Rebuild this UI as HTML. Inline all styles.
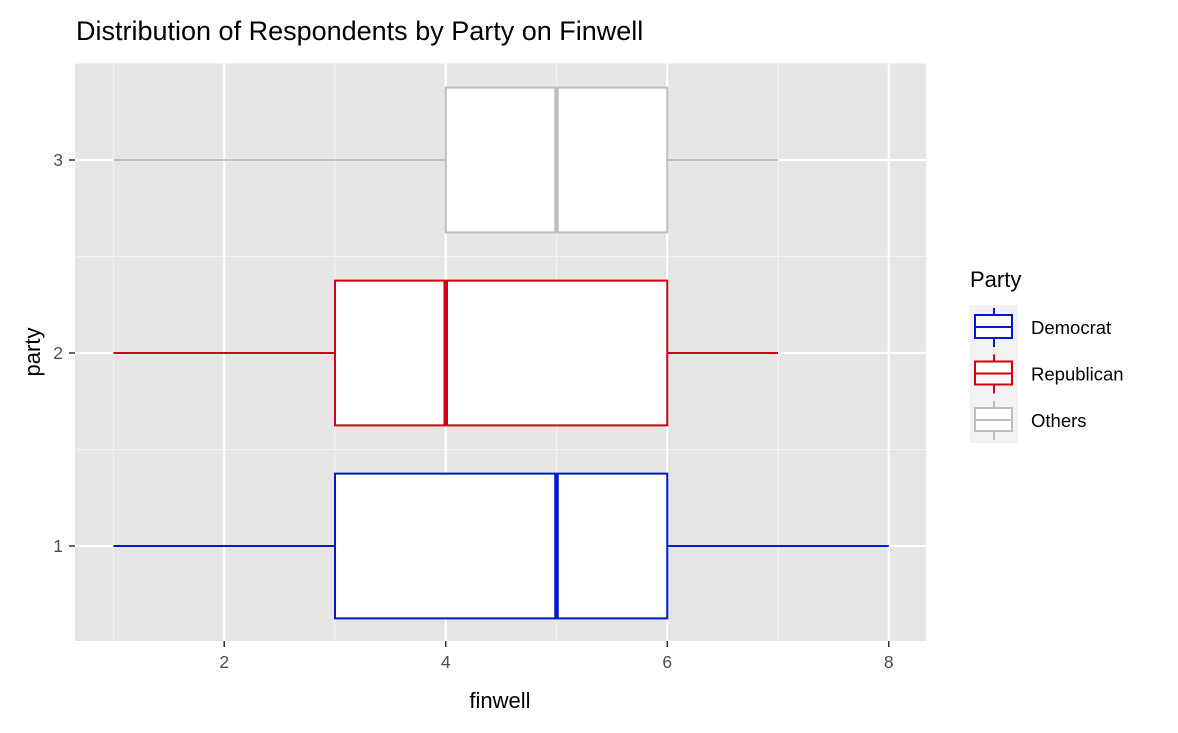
<!DOCTYPE html>
<html><head><meta charset="utf-8"><style>
body{margin:0;background:#fff;font-family:"Liberation Sans",Arial,sans-serif}
</style></head><body>
<svg id="c" width="1178" height="728" xmlns="http://www.w3.org/2000/svg" font-family="Liberation Sans, Arial, sans-serif">
<text x="76" y="40" font-size="27" fill="#000">Distribution of Respondents by Party on Finwell</text>
<rect x="75" y="63" width="851" height="578" fill="#e5e5e5"/>
<g id="grid"></g><g id="boxes"></g><g id="axes"></g>
<text x="500" y="708" font-size="22" text-anchor="middle">finwell</text>
<text transform="translate(40,352) rotate(-90)" font-size="22" text-anchor="middle">party</text>
<g>
<text x="970" y="287" font-size="22">Party</text>
<rect x="970" y="305" width="48" height="138" fill="#f2f2f2"/>
<g id="leg"></g></g>
</svg>
<script>
const parties=["Democrat","Republican","Others"];
const colors=["#0019cc","#d10012","#bebebe"];
const yPos=[1,2,3];
const mins=[1,1,1];
const q1s=[3,3,4];
const medians=[5,4,5];
const q3s=[6,6,6];
const maxs=[8,7,7];
const xTicks=[2,4,6,8];
const yTicks=[1,2,3];
const NS="http://www.w3.org/2000/svg";
const X=v=>113.5+(v-1)*110.75;
const Y=v=>546-(v-1)*193;
function mk(p,t,a){const e=document.createElementNS(NS,t);for(const k in a)e.setAttribute(k,a[k]);p.appendChild(e);return e;}
const grid=document.getElementById('grid'),boxes=document.getElementById('boxes'),axes=document.getElementById('axes'),leg=document.getElementById('leg');
for(let v=1;v<=9;v+=2){const x=X(v);if(x>75&&x<926){const l=mk(grid,'line',{x1:x,x2:x,y1:63,y2:641,stroke:'#f2f2f2','stroke-width':1.2});

}}
for(let v=0.5;v<=3.5;v+=1){const y=Y(v);if(y>63&&y<641){const l=mk(grid,'line',{x1:75,x2:926,y1:y,y2:y,stroke:'#f2f2f2','stroke-width':1.2});

}}
xTicks.forEach(v=>{const x=X(v);const l=mk(grid,'line',{x1:x,x2:x,y1:63,y2:641,stroke:'#fff','stroke-width':2.2});


mk(axes,'line',{x1:x,x2:x,y1:641,y2:647,stroke:'#333','stroke-width':1.5});
const t=mk(axes,'text',{x:x,y:668,'font-size':17.5,fill:'#4d4d4d','text-anchor':'middle'});t.textContent=v;

});
yTicks.forEach(v=>{const y=Y(v);const l=mk(grid,'line',{x1:75,x2:926,y1:y,y2:y,stroke:'#fff','stroke-width':2.2});


mk(axes,'line',{x1:69,x2:75,y1:y,y2:y,stroke:'#333','stroke-width':1.5});
const t=mk(axes,'text',{x:63,y:y+6,'font-size':17.5,fill:'#4d4d4d','text-anchor':'end'});t.textContent=v;

});
parties.forEach((p,i)=>{const y=Y(yPos[i]),h=0.375*193,c=colors[i];
const g=mk(boxes,'g',{});


mk(g,'line',{x1:X(mins[i]),x2:X(q1s[i]),y1:y,y2:y,stroke:c,'stroke-width':2});
mk(g,'line',{x1:X(q3s[i]),x2:X(maxs[i]),y1:y,y2:y,stroke:c,'stroke-width':2});
mk(g,'rect',{x:X(q1s[i]),y:y-h,width:X(q3s[i])-X(q1s[i]),height:2*h,fill:'#fff',stroke:c,'stroke-width':2});
mk(g,'line',{x1:X(medians[i]),x2:X(medians[i]),y1:y-h,y2:y+h,stroke:c,'stroke-width':4.5});
const ly=327+i*46.5;
const lg=mk(leg,'g',{});


mk(lg,'line',{x1:994,x2:994,y1:ly-19,y2:ly+20,stroke:c,'stroke-width':2});
mk(lg,'rect',{x:975,y:ly-12,width:37,height:23,fill:'#fff',stroke:c,'stroke-width':2});
mk(lg,'line',{x1:975,x2:1012,y1:ly,y2:ly,stroke:c,'stroke-width':2});
const t=mk(lg,'text',{x:1031,y:ly+7,'font-size':18.5,fill:'#000'});t.textContent=p;});
</script>
</body></html>
